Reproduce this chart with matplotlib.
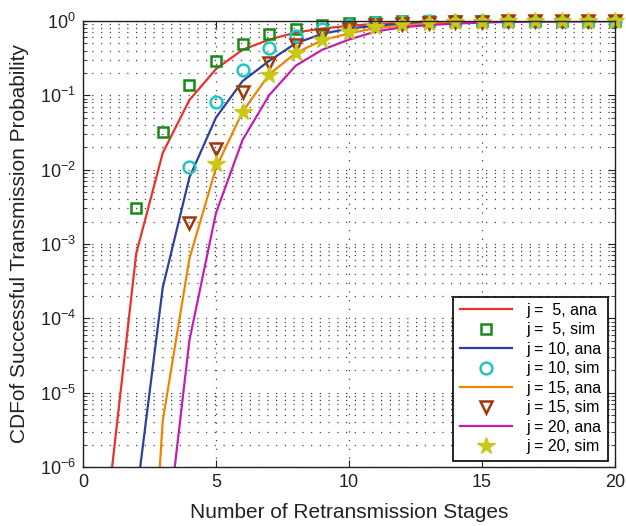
import matplotlib
matplotlib.use("Agg")
import matplotlib.pyplot as plt
import numpy as np
from matplotlib.ticker import LogLocator, FixedLocator, NullFormatter

plt.rcParams['font.family'] = ['Liberation Sans', 'DejaVu Sans']
plt.rcParams['mathtext.fontset'] = 'custom'
plt.rcParams['mathtext.rm'] = 'Liberation Sans'
plt.rcParams['mathtext.it'] = 'Liberation Sans'

# analytical curves
x_j5 = [1, 2, 3, 4, 5, 6, 7, 8, 9, 10, 11, 12, 13, 14, 15, 16, 17, 18, 19, 20]
ana_j5 = [5e-7, 7.4e-4, 0.0168, 0.086, 0.225, 0.41, 0.56, 0.70, 0.79, 0.86, 0.91,
          0.94, 0.96, 0.975, 0.985, 0.99, 0.994, 0.996, 0.998, 0.999]
x_j10 = [2, 3, 4, 5, 6, 7, 8, 9, 10, 11, 12, 13, 14, 15, 16, 17, 18, 19, 20]
ana_j10 = [3.7e-7, 2.6e-4, 0.0078, 0.05, 0.155, 0.29, 0.5, 0.67, 0.79, 0.86, 0.91,
           0.945, 0.965, 0.978, 0.987, 0.992, 0.995, 0.997, 0.998]
x_j15 = [2, 3, 4, 5, 6, 7, 8, 9, 10, 11, 12, 13, 14, 15, 16, 17, 18, 19, 20]
ana_j15 = [1e-11, 4.2e-6, 6.3e-4, 0.0105, 0.06, 0.19, 0.37, 0.55, 0.68, 0.8, 0.87,
           0.92, 0.95, 0.97, 0.98, 0.988, 0.993, 0.996, 0.998]
x_j20 = [3, 4, 5, 6, 7, 8, 9, 10, 11, 12, 13, 14, 15, 16, 17, 18, 19, 20]
ana_j20 = [4e-8, 5e-5, 0.0026, 0.025, 0.1, 0.25, 0.41, 0.56, 0.72, 0.82, 0.88,
           0.92, 0.95, 0.97, 0.98, 0.987, 0.992, 0.995]

# simulation points
xs_j5 = [2, 3, 4, 5, 6, 7, 8, 9, 10, 11, 12, 13, 14, 15, 16, 17, 18, 19, 20]
sim_j5 = [0.003, 0.032, 0.137, 0.29, 0.49, 0.67, 0.79, 0.87, 0.94, 0.97, 0.985,
          0.99, 0.995, 0.997, 0.998, 0.999, 0.999, 1.0, 1.0]
xs_j10 = [4, 5, 6, 7, 8, 9, 10, 11, 12, 13, 14, 15, 16, 17, 18, 19, 20]
sim_j10 = [0.011, 0.082, 0.22, 0.43, 0.62, 0.77, 0.88, 0.94, 0.97, 0.985, 0.99,
           0.995, 0.997, 0.998, 0.999, 1.0, 1.0]
xs_j15 = [4, 5, 6, 7, 8, 9, 10, 11, 12, 13, 14, 15, 16, 17, 18, 19, 20]
sim_j15 = [0.0019, 0.019, 0.11, 0.27, 0.47, 0.65, 0.78, 0.87, 0.92, 0.95, 0.97,
           0.98, 0.99, 0.995, 0.997, 0.998, 0.999]
xs_j20 = [5, 6, 7, 8, 9, 10, 11, 12, 13, 14, 15, 16, 17, 18, 19, 20]
sim_j20 = [0.012, 0.06, 0.19, 0.37, 0.55, 0.72, 0.84, 0.92, 0.95, 0.97, 0.98,
           0.99, 0.993, 0.996, 0.998, 0.999]

labels = ['j =  5, ana', 'j =  5, sim', 'j = 10, ana', 'j = 10, sim',
          'j = 15, ana', 'j = 15, sim', 'j = 20, ana', 'j = 20, sim']

fig = plt.figure(figsize=(6.26, 5.26), dpi=100)
ax = fig.add_axes([0.1326, 0.1122, 0.8494, 0.848])

lw = 1.6
ax.plot(x_j5, ana_j5, color='#e8322a', lw=lw, label=labels[0])
ax.plot(xs_j5, sim_j5, ls='none', marker='s', ms=7, mfc='none', mec='#168a16',
        mew=1.8, label=labels[1], clip_on=False)
ax.plot(x_j10, ana_j10, color='#2f3f9e', lw=lw, label=labels[2])
ax.plot(xs_j10, sim_j10, ls='none', marker='o', ms=8.5, mfc='none', mec='#22c4c4',
        mew=1.8, label=labels[3], clip_on=False)
ax.plot(x_j15, ana_j15, color='#f08400', lw=lw, label=labels[4])
ax.plot(xs_j15, sim_j15, ls='none', marker='v', ms=9, mfc='none', mec='#a0380a',
        mew=1.8, label=labels[5], clip_on=False)
ax.plot(x_j20, ana_j20, color='#c020b0', lw=lw, label=labels[6])
ax.plot(xs_j20, sim_j20, ls='none', marker='*', ms=13, mfc='#c8c818', mec='#c8c818',
        mew=1.0, label=labels[7], clip_on=False)

ax.set_yscale('log')
ax.set_xlim(0, 20)
ax.set_ylim(1e-6, 1)
ax.set_xticks([0, 5, 10, 15, 20])
ax.yaxis.set_major_locator(FixedLocator([1e-6, 1e-5, 1e-4, 1e-3, 1e-2, 1e-1, 1]))
ax.yaxis.set_minor_locator(LogLocator(base=10, subs=np.arange(2, 10), numticks=20))
ax.yaxis.set_minor_formatter(NullFormatter())

gstyle = (0, (1, 6))
ax.grid(True, which='major', axis='both', ls=gstyle, color='#444444', lw=0.9)
ax.grid(True, which='minor', axis='y', ls=gstyle, color='#444444', lw=0.9)
ax.set_axisbelow(True)

ax.tick_params(which='both', direction='in', top=True, right=True, labelsize=13,
               colors='#222222')
ax.tick_params(which='major', length=5, width=0.8, pad=5)
ax.tick_params(which='minor', length=3, width=0.6)
for s in ax.spines.values():
    s.set_linewidth(1.0)
    s.set_color('#222222')

ax.set_xlabel('Number of Retransmission Stages', fontsize=15, color='#222222',
              labelpad=9)
ax.set_ylabel('CDFof Successful Transmission Probability', fontsize=15,
              color='#222222', labelpad=8)

leg = ax.legend(loc='lower right', fontsize=11.5, frameon=True, fancybox=False,
                edgecolor='black', framealpha=1, borderpad=0.4, labelspacing=0.28,
                handlelength=3.3, handletextpad=0.9, borderaxespad=0.4)
leg.get_frame().set_linewidth(1.2)

fig.savefig('out.png', dpi=100)
